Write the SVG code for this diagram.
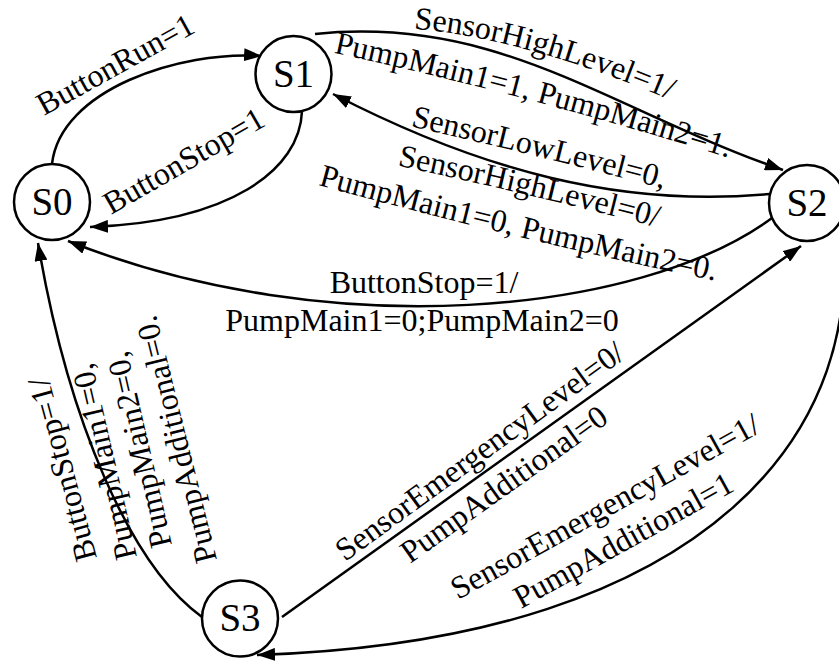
<svg xmlns="http://www.w3.org/2000/svg" width="839" height="663" viewBox="0 0 839 663">
<style>
.node circle{fill:#fff;stroke:#000;stroke-width:2.5}
.node text{font-family:"Liberation Serif","Times New Roman",serif;font-size:39px;text-anchor:middle;fill:#000}
.edge{fill:none;stroke:#000;stroke-width:2.5;marker-end:url(#arr)}
.lbl{font-family:"Liberation Serif","Times New Roman",serif;font-size:32px;fill:#000}
.mid{text-anchor:middle}
</style>
<defs>
<marker id="arr" markerUnits="userSpaceOnUse" markerWidth="18" markerHeight="13" refX="18" refY="6.5" orient="auto">
<path d="M0,0 L18,6.5 L0,13 z" fill="#000"/>
</marker>
<path id="pC1" d="M403,28 Q520,35 680,104"/>
<path id="pC2" d="M320,50 Q520,92 742,162"/>
<path id="pD1" d="M405,125 Q537,155 669,190"/>
<path id="pD2" d="M390,164 Q527,193 664,229"/>
<path id="pD3" d="M307,182 Q517,240 726,283"/>
</defs>
<rect width="839" height="663" fill="#fff"/>
<g id="connectors">
<path class="edge" d="M52,164 C60,90 180,50 262,56"/>
<path class="edge" d="M302,111 C300,170 230,222 90,227"/>
<path class="edge" d="M315,34 C500,15 610,110 783,170"/>
<path class="edge" d="M770,194 C620,208 480,170 333,94"/>
<path class="edge" d="M772,218 C640,315 330,345 68,241"/>
<path class="edge" d="M202,617 C130,565 68,420 38,243"/>
<path class="edge" d="M282,617 L801,246"/>
<path class="edge" d="M840,222 C870,420 720,640 257,655"/>
</g>
<g id="labels">
<text class="lbl" transform="translate(44,116) rotate(-29)">ButtonRun=1</text>
<text class="lbl" transform="translate(111,215) rotate(-30)">ButtonStop=1</text>
<text class="lbl"><textPath href="#pC1" startOffset="50%" class="mid">SensorHighLevel=1/</textPath></text>
<text class="lbl"><textPath href="#pC2" startOffset="50%" class="mid">PumpMain1=1, PumpMain2=1.</textPath></text>
<text class="lbl"><textPath href="#pD1" startOffset="50%" class="mid">SensorLowLevel=0,</textPath></text>
<text class="lbl"><textPath href="#pD2" startOffset="50%" class="mid">SensorHighLevel=0/</textPath></text>
<text class="lbl"><textPath href="#pD3" startOffset="50%" class="mid">PumpMain1=0, PumpMain2=0.</textPath></text>
<text class="lbl mid" x="424" y="293">ButtonStop=1/</text>
<text class="lbl mid" x="422" y="331">PumpMain1=0;PumpMain2=0</text>
<text class="lbl" transform="translate(97,558) rotate(-105)">ButtonStop=1/</text>
<text class="lbl" transform="translate(137,557) rotate(-103)">PumpMain1=0,</text>
<text class="lbl" transform="translate(172,545) rotate(-103)">PumpMain2=0,</text>
<text class="lbl" transform="translate(217,560) rotate(-104)">PumpAdditional=0.</text>
<text class="lbl" transform="translate(345,562) rotate(-36)">SensorEmergencyLevel=0/</text>
<text class="lbl" transform="translate(410,564) rotate(-35.5)">PumpAdditional=0</text>
<text class="lbl" transform="translate(458,600) rotate(-29)">SensorEmergencyLevel=1/</text>
<text class="lbl" transform="translate(521,609) rotate(-29)">PumpAdditional=1</text>
</g>
<g id="S0" class="node"><circle cx="52" cy="202" r="38"/><text x="52" y="215">S0</text></g>
<g id="S1" class="node"><circle cx="293.5" cy="74" r="38"/><text x="293.5" y="87">S1</text></g>
<g id="S2" class="node"><circle cx="807" cy="203" r="38"/><text x="807" y="216">S2</text></g>
<g id="S3" class="node"><circle cx="240" cy="618.5" r="38"/><text x="240" y="631">S3</text></g>
</svg>
